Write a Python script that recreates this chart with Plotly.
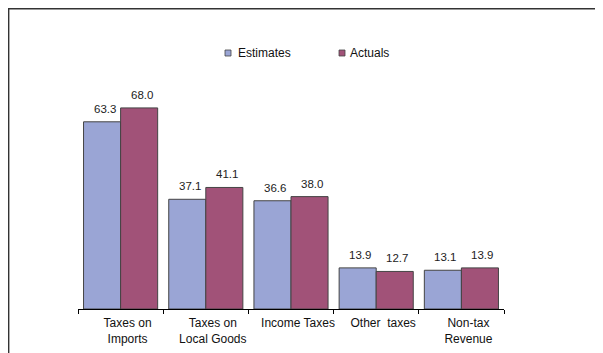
import plotly.graph_objects as go

categories = ["Taxes on<br>Imports", "Taxes on<br>Local Goods", "Income Taxes", "Other  taxes", "Non-tax<br>Revenue"]
estimates = [63.3, 37.1, 36.6, 13.9, 13.1]
actuals = [68.0, 41.1, 38.0, 12.7, 13.9]
series_names = ["Estimates", "Actuals"]
series_colors = ["#9AA5D5", "#A15278"]

fig = go.Figure()
for name, vals, col in zip(series_names, [estimates, actuals], series_colors):
    fig.add_trace(go.Bar(
        x=categories, y=vals, name=name,
        marker=dict(color=col, line=dict(color="#444444", width=1)),
    ))

# page is offset ~8px by body margin; work in figure coordinates
OFF = 8
L, R, T, B = 70, 107, 52, 52
W, H = 603, 353
pw, ph = W - L - R, H - T - B

def px(x):
    return (x - OFF - L) / pw

def py(y):
    return (H - B - (y - OFF)) / ph

shapes = [dict(type="rect", xref="paper", yref="paper",
               x0=(0.5 - L) / pw, x1=px(700), y0=py(420), y1=(H - B - 0.5) / ph,
               line=dict(color="#333333", width=1.8), fillcolor="rgba(0,0,0,0)", layer="below")]
annotations = []
leg = [(225, 236), (339, 348)]
for (sx, tx), name, col in zip(leg, series_names, series_colors):
    shapes.append(dict(type="rect", xref="paper", yref="paper",
                       x0=px(sx), x1=px(sx + 6), y0=py(56), y1=py(50),
                       line=dict(color="#444444", width=0.8), fillcolor=col))
    annotations.append(dict(text=name, xref="paper", yref="paper", x=px(tx), y=py(53),
                            xanchor="left", yanchor="middle", showarrow=False,
                            font=dict(size=12, color="#111111")))

# data labels above bars
for vals, xs in [(estimates, -16), (actuals, 21)]:
    for c, v in zip(categories, vals):
        annotations.append(dict(text=f"{v:.1f}", x=c, y=v, xref="x", yref="y",
                                xshift=xs, yshift=13, showarrow=False,
                                xanchor="center", yanchor="middle",
                                font=dict(size=11.5, color="#222222")))

fig.update_layout(
    width=W, height=H,
    margin=dict(l=L, r=R, t=T, b=B),
    paper_bgcolor="white", plot_bgcolor="white",
    font=dict(family="Liberation Sans, Arial, sans-serif", size=12, color="#111111"),
    barmode="group", bargap=0.13, bargroupgap=0,
    showlegend=False,
    xaxis=dict(showline=True, linecolor="#000000", linewidth=1, ticks="outside",
               tickson="boundaries", ticklen=4, tickcolor="#000000", showgrid=False,
               ticklabelshift=7, ticklabelstandoff=3,
               tickfont=dict(size=12, color="#111111")),
    yaxis=dict(range=[0, 84.2], visible=False, showgrid=False, zeroline=False),
    shapes=shapes,
    annotations=annotations,
)

fig.write_html("out.html")
